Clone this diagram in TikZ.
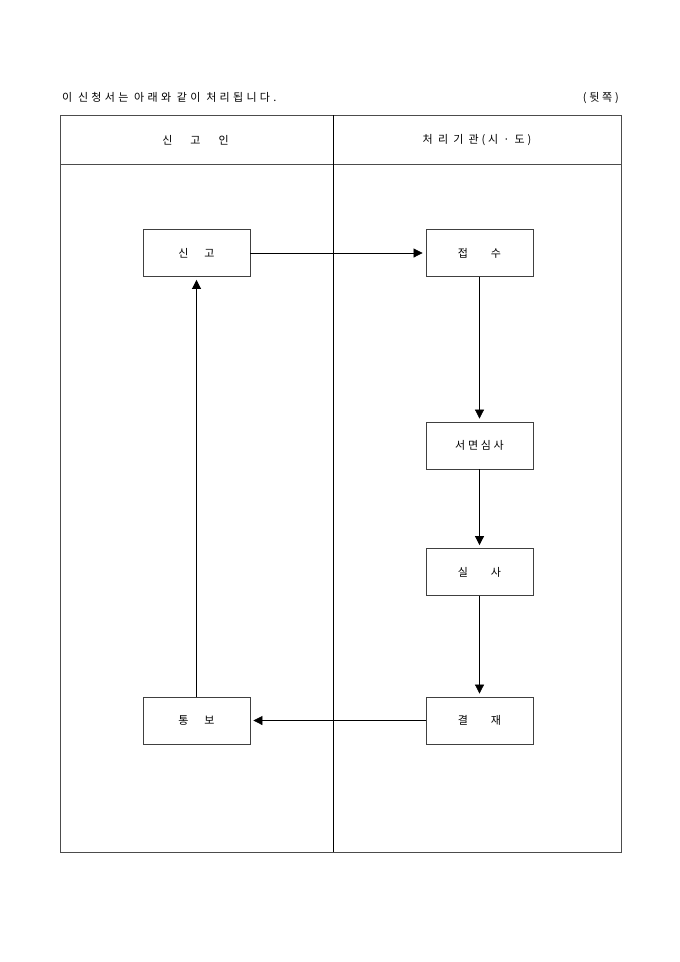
\documentclass[tikz,border=0pt]{standalone}
\usepackage{fontspec}
\setmainfont[LetterSpace=25]{Noto Sans CJK KR}
\usepackage{tikz}
\usetikzlibrary{arrows.meta,calc}
\usetikzlibrary{positioning,shapes}
\tikzstyle{line}=[-, line width=0.7pt]
\tikzstyle{frame}=[line width=1pt, draw=black!70]
\tikzstyle{stepbox}=[rectangle, draw=black!75, line width=0.8pt, fill=white,
		minimum width=107pt, minimum height=47pt, inner sep=0pt]
\tikzstyle{flow}=[-{Triangle[length=9pt,width=9pt]}, line width=0.7pt,
		shorten >=3pt]
\newcommand{\gapp}{\hspace{16pt}}
\newcommand{\gappw}{\hspace{23pt}}

\begin{document}
\begin{tikzpicture}[x=1pt,y=-1pt,font=\fontsize{11}{13}\selectfont]
    \useasboundingbox (0,0) rectangle (680,962);

    % heading above the table
    \node (Title) [anchor=base west, inner sep=0pt] at (62,101)
        {\addfontfeatures{LetterSpace=30}이 신청서는 아래와 같이 처리됩니다.};
    \node (Side) [anchor=base east, inner sep=0pt] at (619,101) {(뒷쪽)};

    % table
    \draw[frame] (60,115) rectangle (621,852);
    \draw[frame] (60,164) -- (621,164);
    \draw[line] (333,115) -- (333,852);

    \node (ColA) at (195.5,140) {신\hspace{18pt}고\hspace{18pt}인};
    \node (ColB) at (477,140) {처 리 기 관(시 · 도)};

    % steps
    \node (Singo) [stepbox] at (196.5,253) {신\gapp 고};
    \node (Jeopsu) [stepbox] at (479.5,253) {접\gappw 수};
    \node (Seomyeon) [stepbox] at (479.5,445.5) {서면심사};
    \node (Silsa) [stepbox] at (479.5,572) {실\gappw 사};
    \node (Gyeoljae) [stepbox] at (479.5,720.5) {결\gappw 재};
    \node (Tongbo) [stepbox] at (196.5,720.5) {통\gapp 보};

    \draw[flow] (Singo) -- (Jeopsu);
    \draw[flow] (Jeopsu) -- (Seomyeon);
    \draw[flow] (Seomyeon) -- (Silsa);
    \draw[flow] (Silsa) -- (Gyeoljae);
    \draw[flow] (Gyeoljae) -- (Tongbo);
    \draw[flow] (Tongbo) -- (Singo);

\end{tikzpicture}
\end{document}
